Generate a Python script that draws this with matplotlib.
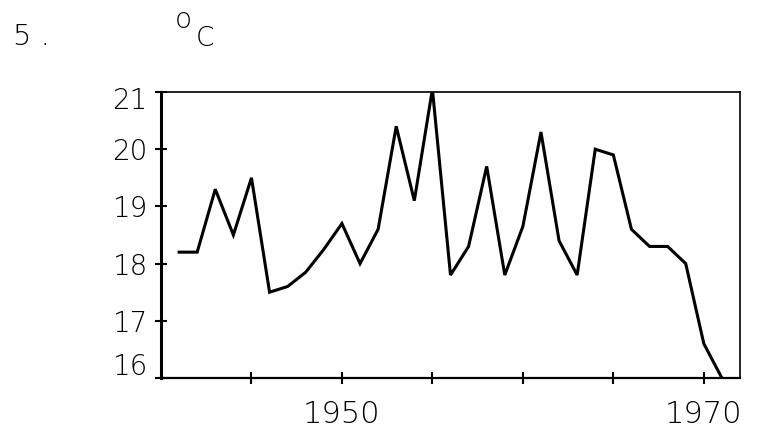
import matplotlib
matplotlib.use("Agg")
import matplotlib.pyplot as plt
from matplotlib.ticker import FixedLocator, FixedFormatter
import matplotlib.transforms as mtransforms

years = list(range(1941, 1972))
temps = [18.2, 18.2, 19.3, 18.5, 19.5, 17.5, 17.6, 17.85, 18.25, 18.7,
         18.0, 18.6, 20.4, 19.1, 21.05, 17.8, 18.3, 19.7, 17.8, 18.65,
         20.3, 18.4, 17.8, 20.0, 19.9, 18.6, 18.3, 18.3, 18.0, 16.6, 16.0]

x_ticks = [1945, 1950, 1955, 1960, 1965, 1970]
x_tick_labels = ["", "1950", "", "", "", "1970"]
y_ticks = [16, 17, 18, 19, 20, 21]
y_tick_labels = ["16", "17", "18", "19", "20", "21"]
figure_number = "5 ."
unit_label = "C"

W, H = 765, 444
fig = plt.figure(figsize=(W / 100, H / 100), dpi=100)
plt.rcParams['font.family'] = ['DejaVu Sans']

ax = fig.add_axes([161 / W, 1 - 378 / H, 579 / W, 286 / H])
ax.plot(years, temps, color='black', lw=2.2, solid_joinstyle='miter')
ax.set_xlim(1940, 1972)
ax.set_ylim(16, 21)

ax.xaxis.set_major_locator(FixedLocator(x_ticks))
ax.xaxis.set_major_formatter(FixedFormatter(x_tick_labels))
ax.yaxis.set_major_locator(FixedLocator(y_ticks))
ax.yaxis.set_major_formatter(FixedFormatter(y_tick_labels))

ax.tick_params(axis='x', direction='inout', length=9, width=1.5, labelsize=22, pad=11)
ax.tick_params(axis='y', direction='inout', length=9, width=1.5, labelsize=20, pad=5)
ax.tick_params(top=False, right=False)
for lbl in ax.get_xticklabels() + ax.get_yticklabels():
    lbl.set_fontweight('light')

ax.spines['left'].set_linewidth(2.2)
ax.spines['bottom'].set_linewidth(1.6)
ax.spines['top'].set_linewidth(1.2)
ax.spines['right'].set_linewidth(1.2)

# raise the bottom label slightly like the reference
fig.canvas.draw()
for lbl in ax.get_yticklabels():
    if lbl.get_text() == "16":
        lbl.set_transform(lbl.get_transform() +
                          mtransforms.ScaledTranslation(0, 10 / 72, fig.dpi_scale_trans))
    if lbl.get_text() == "21":
        lbl.set_transform(lbl.get_transform() +
                          mtransforms.ScaledTranslation(0, -4 / 72, fig.dpi_scale_trans))

fig.text(13 / W, 1 - 37 / H, figure_number, fontsize=21, va='center', ha='left', fontweight='light')
fig.text(183 / W, 1 - 20 / H, "o", fontsize=20, va='center', ha='center', fontweight='light')
fig.text(205 / W, 1 - 38 / H, unit_label, fontsize=19, va='center', ha='center', fontweight='light')

fig.savefig("out.png", dpi=100)
